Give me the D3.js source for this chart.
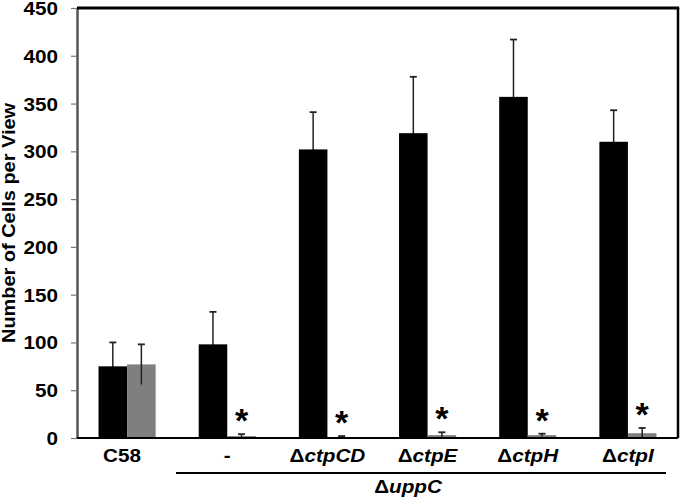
<!DOCTYPE html>
<html>
<head>
<meta charset="utf-8">
<script src="https://cdn.jsdelivr.net/npm/d3@7"></script>
<style>
  html, body { margin: 0; padding: 0; background: #fff; }
  svg { display: block; }
  text { font-family: "Liberation Sans", Arial, sans-serif; font-weight: bold; fill: #000; }
</style>
</head>
<body>
<svg id="chart" width="680" height="503"></svg>
<script>
// ---- data ----
const categories = ["C58", "-", "ΔctpCD", "ΔctpE", "ΔctpH", "ΔctpI"];
const blackValues = [75, 98, 302, 319, 357, 310];
const blackErrors = [25, 34, 39, 59, 60, 33];
const grayValues = [77, 2, 1, 3, 3, 5];
const grayErrors = [21, 2, 1, 3, 1.5, 5.5];
const starLabels = ["", "*", "*", "*", "*", "*"];
const yTicks = [0, 50, 100, 150, 200, 250, 300, 350, 400, 450];
const yTitle = "Number of Cells per View";
const groupLabel = "ΔuppC";
const seriesKeys = ["black", "gray"];

// ---- layout ----
const svg = d3.select("#chart");
const mLeft = 77, mRight = 678, mTop = 8, mBottom = 438;
const sx = 1.15; // horizontal stretch of the lettering
const fs = "18px";

const x0 = d3.scaleBand().domain(categories).range([mLeft, mRight])
  .paddingInner(0.43).paddingOuter(0.215);
const x1 = d3.scaleBand().domain(seriesKeys).range([0, x0.bandwidth()]);
const y = d3.scaleLinear().domain([0, 450]).range([mBottom, mTop]);

const rows = categories.map((c, i) => ({
  cat: c,
  bars: [
    { key: "black", v: blackValues[i], e: blackErrors[i] },
    { key: "gray", v: grayValues[i], e: grayErrors[i] }
  ],
  star: starLabels[i]
}));
const colors = { black: "#000000", gray: "#7f7f7f" };

const grp = svg.append("g").selectAll("g.grp").data(rows).join("g")
  .attr("transform", d => `translate(${x0(d.cat)},0)`);

function drawErr(sel) {
  const eb = sel.append("g")
    .attr("transform", d => `translate(${x1(d.key) + x1.bandwidth() / 2},0)`);
  eb.append("line")
    .attr("y1", d => y(Math.max(0, d.v - d.e))).attr("y2", d => y(d.v + d.e))
    .attr("stroke", "#222").attr("stroke-width", 1.5);
  eb.append("line")
    .attr("x1", -3.5).attr("x2", 3.5)
    .attr("y1", d => y(d.v + d.e)).attr("y2", d => y(d.v + d.e))
    .attr("stroke", "#222").attr("stroke-width", 1.8);
}

grp.each(function(d) {
  const gsel = d3.select(this);
  d.bars.forEach(b => {
    const bs = gsel.append("g").datum(b);
    // black bars hide the lower whisker; grey bars show it
    if (b.key === "black") drawErr(bs);
    bs.append("rect")
      .attr("x", x1(b.key))
      .attr("width", x1.bandwidth())
      .attr("y", y(b.v))
      .attr("height", y(0) - y(b.v))
      .attr("fill", colors[b.key]);
    if (b.key !== "black") drawErr(bs);
  });
});

// stars
grp.filter(d => d.star).append("text")
  .attr("text-anchor", "middle")
  .attr("transform", d => `translate(${x1("gray") + x1.bandwidth() / 2},${y(d.bars[1].v + d.bars[1].e) - 2})`)
  .style("font-size", "34px")
  .text(d => d.star);

// y axis
const yAxis = d3.axisLeft(y).tickValues(yTicks).tickSize(6).tickSizeOuter(0);
const ya = svg.append("g").attr("transform", `translate(${mLeft},0)`).call(yAxis);
ya.select(".domain").attr("stroke", "#555").attr("stroke-width", 2.5);
ya.selectAll(".tick line").attr("stroke", "#777").attr("stroke-width", 1.2);
ya.selectAll(".tick text")
  .attr("x", null).attr("dy", null)
  .attr("transform", `translate(-19,6.5) scale(${sx},1)`)
  .style("font-size", fs).style("font-family", "Liberation Sans, Arial, sans-serif")
  .style("font-weight", "bold").attr("fill", "#000");

// frame
svg.append("line").attr("x1", mLeft).attr("x2", mRight + 1.2).attr("y1", mTop).attr("y2", mTop)
  .attr("stroke", "#000").attr("stroke-width", 3);
svg.append("line").attr("x1", mRight).attr("x2", mRight).attr("y1", mTop).attr("y2", mBottom)
  .attr("stroke", "#000").attr("stroke-width", 2.5);
svg.append("line").attr("x1", mLeft).attr("x2", mRight).attr("y1", mBottom).attr("y2", mBottom)
  .attr("stroke", "#000").attr("stroke-width", 2);

// y title
svg.append("text")
  .attr("text-anchor", "middle")
  .attr("transform", `translate(14.5,${(mTop + mBottom) / 2}) rotate(-90) scale(1.14,1)`)
  .style("font-size", "17.5px")
  .text(yTitle);

// category labels
const cl = svg.append("g").selectAll("text").data(categories).join("text")
  .attr("text-anchor", "middle")
  .attr("transform", (d, i) => `translate(${x0(d) + x0.bandwidth() / 2 - (i === 0 ? 5 : 0)},462) scale(${sx},1)`)
  .style("font-size", fs);
cl.each(function(d) {
  const t = d3.select(this);
  if (d.startsWith("Δ")) {
    t.append("tspan").text("Δ");
    t.append("tspan").style("font-style", "italic").text(d.slice(1));
  } else {
    t.text(d);
  }
});

// group bracket and label
svg.append("line").attr("x1", 176).attr("x2", 666).attr("y1", 473).attr("y2", 473)
  .attr("stroke", "#000").attr("stroke-width", 2);
const gl = svg.append("text").attr("text-anchor", "middle")
  .attr("transform", `translate(408,493) scale(${sx},1)`)
  .style("font-size", fs);
gl.append("tspan").text(groupLabel[0]);
gl.append("tspan").style("font-style", "italic").text(groupLabel.slice(1));
</script>
</body>
</html>
